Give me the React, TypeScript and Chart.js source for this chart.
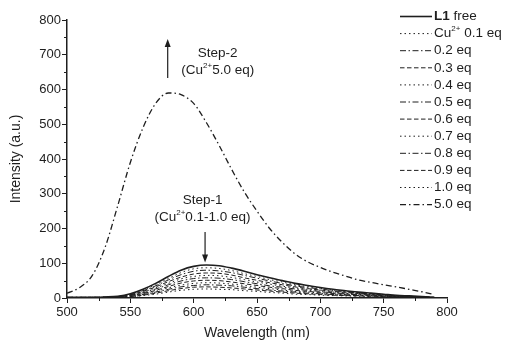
import React, { useEffect, useRef } from "react";
import { Chart, registerables } from "chart.js";

Chart.register(...registerables);

const wavelengths = [500, 510, 520, 530, 540, 550, 560, 570, 580, 590, 600, 610, 620, 630, 640, 650, 660, 670, 680, 690, 700, 710, 720, 730, 740, 750, 760, 770, 780, 790];

const L1free = [2, 2, 2, 3, 5, 12, 25, 42, 62, 80, 91, 95, 93, 86, 77, 67, 58, 50, 42, 36, 30, 25, 21, 17, 14, 11, 8, 6, 4, 2];
const eq01 = [2, 2, 2, 3, 4, 11, 23, 38, 56, 73, 84, 87, 85, 79, 70, 62, 53, 46, 38, 33, 28, 23, 19, 16, 13, 10, 7, 5, 3, 2];
const eq02 = [2, 2, 2, 2, 4, 10, 21, 35, 52, 67, 77, 80, 78, 73, 65, 57, 49, 42, 35, 30, 26, 21, 18, 14, 12, 10, 6, 5, 3, 2];
const eq03 = [1, 1, 2, 2, 4, 9, 19, 32, 47, 60, 69, 72, 71, 66, 58, 51, 44, 38, 32, 27, 23, 19, 16, 13, 11, 9, 6, 4, 3, 1];
const eq04 = [1, 1, 1, 2, 3, 8, 17, 29, 42, 55, 62, 65, 64, 59, 53, 46, 40, 34, 29, 25, 21, 17, 14, 12, 10, 8, 5, 4, 3, 1];
const eq05 = [1, 1, 1, 2, 3, 8, 15, 26, 38, 49, 56, 58, 57, 53, 47, 41, 35, 31, 26, 22, 19, 15, 13, 10, 9, 7, 5, 3, 2, 1];
const eq06 = [1, 1, 1, 2, 3, 7, 13, 22, 33, 43, 49, 51, 50, 46, 41, 36, 31, 27, 22, 19, 16, 13, 11, 9, 8, 6, 4, 3, 2, 1];
const eq07 = [1, 1, 1, 1, 2, 6, 11, 19, 29, 37, 42, 44, 43, 40, 36, 31, 27, 23, 19, 17, 14, 11, 10, 8, 7, 5, 4, 3, 2, 1];
const eq08 = [1, 1, 1, 1, 2, 5, 10, 17, 25, 32, 36, 38, 37, 35, 31, 27, 23, 20, 17, 14, 12, 10, 8, 7, 6, 5, 3, 2, 2, 1];
const eq09 = [1, 1, 1, 1, 2, 4, 8, 14, 21, 27, 31, 32, 31, 29, 26, 23, 20, 17, 14, 12, 10, 8, 7, 6, 5, 4, 3, 2, 1, 1];
const eq10 = [0, 0, 1, 1, 1, 3, 7, 11, 17, 22, 25, 26, 25, 24, 21, 19, 16, 14, 11, 10, 8, 7, 6, 5, 4, 3, 2, 2, 1, 0];
const eq50 = [14, 30, 65, 145, 265, 390, 490, 560, 590, 585, 560, 505, 440, 370, 305, 250, 200, 160, 127, 104, 88, 74, 63, 52, 45, 38, 32, 25, 18, 10];

const seriesNames = ["L1 free", "Cu2+ 0.1 eq", "0.2 eq", "0.3 eq", "0.4 eq", "0.5 eq", "0.6 eq", "0.7 eq", "0.8 eq", "0.9 eq", "1.0 eq", "5.0 eq"];
const seriesValues = [L1free, eq01, eq02, eq03, eq04, eq05, eq06, eq07, eq08, eq09, eq10, eq50];

const xTicks = [500, 550, 600, 650, 700, 750, 800];
const yTicks = [0, 100, 200, 300, 400, 500, 600, 700, 800];
const xMinorTicks = [525, 575, 625, 675, 725, 775];
const yMinorTicks = [50, 150, 250, 350, 450, 550, 650, 750];

const FONT = "'Liberation Sans', Arial, Helvetica, sans-serif";
const INK = "#1e1e1e";

const SOLID: number[] = [];
const DOT = [1.5, 3];
const DASHDOT = [6, 2.5, 1.5, 2.5];
const DASH = [4.5, 2.5];
const styles = [SOLID, DOT, DASHDOT, DASH, DOT, DASHDOT, DASH, DOT, DASHDOT, DASH, DOT, [6, 3, 1.5, 3]];
const widths = [1.6, 1, 1, 1, 1, 1, 1, 1, 1, 1, 1, 1.3];

function drawRich(ctx: CanvasRenderingContext2D, parts: { t: string; sup?: boolean; bold?: boolean }[], x: number, y: number, size: number, align: "left" | "center") {
  const fontFor = (p: { sup?: boolean; bold?: boolean }) => `${p.bold ? "bold " : ""}${p.sup ? Math.round(size * 0.6) : size}px ${FONT}`;
  let total = 0;
  for (const p of parts) {
    ctx.font = fontFor(p);
    total += ctx.measureText(p.t).width;
  }
  let cx = align === "center" ? x - total / 2 : x;
  ctx.textBaseline = "middle";
  ctx.textAlign = "left";
  for (const p of parts) {
    ctx.font = fontFor(p);
    ctx.fillText(p.t, cx, p.sup ? y - size * 0.35 : y);
    cx += ctx.measureText(p.t).width;
  }
}

function arrow(ctx: CanvasRenderingContext2D, x: number, y1: number, y2: number) {
  const dir = y2 > y1 ? 1 : -1;
  ctx.beginPath();
  ctx.moveTo(x, y1);
  ctx.lineTo(x, y2 - dir * 6);
  ctx.lineWidth = 1.2;
  ctx.strokeStyle = INK;
  ctx.setLineDash([]);
  ctx.stroke();
  ctx.beginPath();
  ctx.moveTo(x, y2);
  ctx.lineTo(x - 3, y2 - dir * 8);
  ctx.lineTo(x + 3, y2 - dir * 8);
  ctx.closePath();
  ctx.fillStyle = INK;
  ctx.fill();
}

const decorPlugin = {
  id: "decor",
  afterDraw(chart: any) {
    const ctx: CanvasRenderingContext2D = chart.ctx;
    const xs = chart.scales.x;
    const ys = chart.scales.y;
    ctx.save();
    // minor ticks
    ctx.strokeStyle = INK;
    ctx.lineWidth = 1;
    ctx.setLineDash([]);
    const axisY = ys.getPixelForValue(0);
    const axisX = xs.getPixelForValue(500);
    for (const v of xMinorTicks) {
      const px = Math.round(xs.getPixelForValue(v)) + 0.5;
      ctx.beginPath();
      ctx.moveTo(px, axisY);
      ctx.lineTo(px, axisY + 3);
      ctx.stroke();
    }
    for (const v of yMinorTicks) {
      const py = Math.round(ys.getPixelForValue(v)) + 0.5;
      ctx.beginPath();
      ctx.moveTo(axisX, py);
      ctx.lineTo(axisX - 3, py);
      ctx.stroke();
    }
    // legend
    const lx0 = 400, lx1 = 432, tx = 434;
    chart.data.datasets.forEach((ds: any, i: number) => {
      const y = 16.5 + i * 17.1;
      ctx.beginPath();
      ctx.setLineDash(ds.borderDash || []);
      ctx.lineWidth = ds.borderWidth;
      ctx.strokeStyle = INK;
      ctx.moveTo(lx0, y);
      ctx.lineTo(lx1, y);
      ctx.stroke();
      ctx.setLineDash([]);
      ctx.fillStyle = INK;
      let parts: { t: string; sup?: boolean; bold?: boolean }[];
      if (i === 0) parts = [{ t: "L1", bold: true }, { t: " free" }];
      else if (i === 1) parts = [{ t: "Cu" }, { t: "2+", sup: true }, { t: " 0.1 eq" }];
      else parts = [{ t: ds.label }];
      drawRich(ctx, parts, tx, y, 13.5, "left");
    });
    // annotations
    ctx.fillStyle = INK;
    const s2x = xs.getPixelForValue(619);
    drawRich(ctx, [{ t: "Step-2" }], s2x, ys.getPixelForValue(705), 13.5, "center");
    drawRich(ctx, [{ t: "(Cu" }, { t: "2+", sup: true }, { t: "5.0 eq)" }], s2x, ys.getPixelForValue(656), 13.5, "center");
    arrow(ctx, xs.getPixelForValue(579.5), ys.getPixelForValue(633), ys.getPixelForValue(745));
    const s1x = xs.getPixelForValue(607);
    drawRich(ctx, [{ t: "Step-1" }], s1x, ys.getPixelForValue(282), 13.5, "center");
    drawRich(ctx, [{ t: "(Cu" }, { t: "2+", sup: true }, { t: "0.1-1.0 eq)" }], s1x, ys.getPixelForValue(231), 13.5, "center");
    arrow(ctx, xs.getPixelForValue(609), ys.getPixelForValue(190), ys.getPixelForValue(102));
    ctx.restore();
  },
};

export default function App() {
  const ref = useRef<HTMLCanvasElement | null>(null);
  useEffect(() => {
    if (!ref.current) return;
    const datasets = seriesValues.map((vals, i) => ({
      label: seriesNames[i],
      data: vals.map((v, j) => ({ x: wavelengths[j], y: v })),
      borderColor: INK,
      borderWidth: widths[i],
      borderDash: styles[i],
      pointRadius: 0,
      fill: false,
      tension: 0.4,
      cubicInterpolationMode: "monotone" as const,
    }));
    const chart = new Chart(ref.current, {
      type: "line",
      data: { datasets },
      options: {
        responsive: false,
        animation: false,
        devicePixelRatio: 1,
        layout: { padding: { top: 20, right: 58, left: 0, bottom: 0 } },
        plugins: { legend: { display: false }, tooltip: { enabled: false } },
        scales: {
          x: {
            type: "linear",
            min: 500,
            max: 800,
            afterBuildTicks: (s: any) => { s.ticks = xTicks.map((v) => ({ value: v })); },
            afterFit: (s: any) => { s.height = 47; },
            grid: { display: true, drawOnChartArea: false, drawTicks: true, tickLength: 5, tickColor: INK, tickWidth: 1 },
            border: { display: true, color: INK, width: 1.5 },
            ticks: { color: INK, font: { family: FONT, size: 13 }, padding: 2, maxRotation: 0 },
            title: { display: true, text: "Wavelength (nm)", color: INK, font: { family: FONT, size: 14 }, padding: { top: 0, bottom: 3 } },
          },
          y: {
            type: "linear",
            min: 0,
            max: 800,
            afterBuildTicks: (s: any) => { s.ticks = yTicks.map((v) => ({ value: v })); },
            afterFit: (s: any) => { s.width = 67; },
            grid: { display: true, drawOnChartArea: false, drawTicks: true, tickLength: 5, tickColor: INK, tickWidth: 1 },
            border: { display: true, color: INK, width: 1.5 },
            ticks: { color: INK, font: { family: FONT, size: 13 }, padding: 1 },
            title: { display: true, text: "Intensity (a.u.)", color: INK, font: { family: FONT, size: 14 }, padding: { top: 8, bottom: 0 } },
          },
        },
      },
      plugins: [decorPlugin],
    });
    return () => chart.destroy();
  }, []);
  return (
    <div style={{ position: "fixed", left: 0, top: 0, width: 505, height: 345, background: "#fff" }}>
      <canvas ref={ref} width={505} height={345} style={{ display: "block" }} />
    </div>
  );
}
